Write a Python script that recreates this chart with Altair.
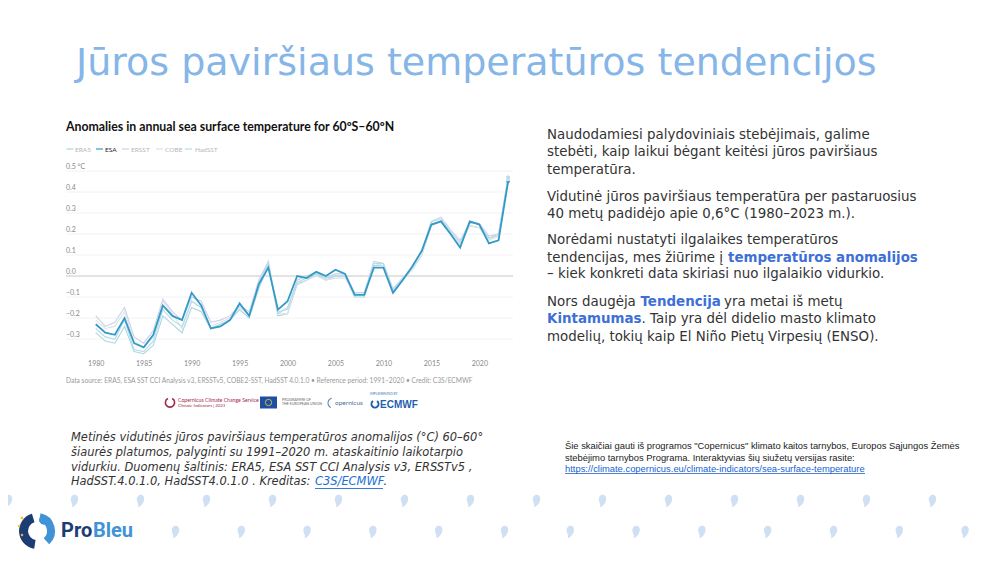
import altair as alt
import pandas as pd

# ---------------- data ----------------
years = list(range(1980, 2024))
esa = [-0.23, -0.27, -0.28, -0.20, -0.32, -0.34, -0.28, -0.14, -0.19, -0.21,
       -0.08, -0.14, -0.25, -0.24, -0.21, -0.13, -0.19, -0.04, 0.04, -0.16,
       -0.12, 0.00, -0.01, 0.02, 0.00, 0.03, 0.01, -0.09, -0.09, 0.04,
       0.04, -0.08, -0.02, 0.045, 0.12, 0.245, 0.26, 0.20, 0.135, 0.26,
       0.245, 0.155, 0.17, 0.45]
era5 = [-0.27, -0.31, -0.32, -0.24, -0.36, -0.37, -0.33, -0.19, -0.23, -0.27,
        -0.15, -0.17, -0.25, -0.23, -0.21, -0.16, -0.20, -0.06, 0.05, -0.19,
        -0.18, -0.04, -0.02, 0.01, -0.02, 0.00, 0.00, -0.10, -0.10, 0.05,
        0.05, -0.07, -0.02, 0.03, 0.10, 0.24, 0.26, 0.20, 0.15, 0.24,
        0.23, 0.18, 0.19, 0.46]
ersst = [-0.19, -0.24, -0.22, -0.15, -0.29, -0.32, -0.26, -0.11, -0.17, -0.21,
         -0.10, -0.12, -0.22, -0.21, -0.19, -0.14, -0.17, -0.02, 0.07, -0.17,
         -0.16, -0.02, 0.00, 0.02, -0.01, 0.01, 0.01, -0.08, -0.08, 0.07,
         0.06, -0.06, -0.01, 0.04, 0.12, 0.26, 0.28, 0.22, 0.17, 0.25,
         0.25, 0.19, 0.20, 0.47]
cobe = [-0.21, -0.25, -0.24, -0.17, -0.31, -0.34, -0.29, -0.12, -0.18, -0.25,
        -0.12, -0.15, -0.24, -0.22, -0.20, -0.15, -0.18, -0.03, 0.06, -0.18,
        -0.18, -0.03, -0.02, 0.00, -0.02, -0.01, -0.01, -0.09, -0.09, 0.06,
        0.05, -0.07, -0.02, 0.03, 0.10, 0.24, 0.26, 0.20, 0.15, 0.24,
        0.23, 0.17, 0.19, 0.46]
hadsst = [-0.25, -0.29, -0.30, -0.21, -0.35, -0.36, -0.31, -0.16, -0.21, -0.24,
          -0.12, -0.15, -0.25, -0.23, -0.21, -0.14, -0.19, -0.03, 0.06, -0.18,
          -0.15, -0.03, -0.01, 0.01, -0.01, 0.00, 0.00, -0.08, -0.08, 0.06,
          0.06, -0.07, -0.01, 0.04, 0.12, 0.26, 0.27, 0.21, 0.16, 0.26,
          0.25, 0.18, 0.20, 0.47]

series_names = ["ERA5", "ESA", "ERSST", "COBE", "HadSST"]
series_values = [era5, esa, ersst, cobe, hadsst]
series_colors = ["#a9d7e0", "#3399c6", "#cbd0ea", "#dde2e5", "#b4dcea"]

y_ticks = [-0.3, -0.2, -0.1, 0.0, 0.1, 0.2, 0.3, 0.4, 0.5]
y_tick_labels = ["−0.3", "−0.2", "−0.1", "0.0", "0.1", "0.2", "0.3", "0.4", "0.5 °C"]
x_ticks = [1980, 1985, 1990, 1995, 2000, 2005, 2010, 2015, 2020]

# ---------------- geometry (page pixels) ----------------
X0, Y0 = 66, 171          # top-left of the plot area on the page
PW, PH = 447, 181         # plot area size

rows = []
for name, vals in zip(series_names, series_values):
    for yr, v in zip(years, vals):
        rows.append({"series": name, "year": yr, "value": v})
df = pd.DataFrame(rows)
ticks_df = pd.DataFrame({"v": y_ticks, "label": y_tick_labels})

xscale = alt.Scale(domain=[1976.9, 2023.51], nice=False, zero=False)
yscale = alt.Scale(domain=[-0.3619, 0.5], nice=False, zero=False)
cscale = alt.Scale(domain=series_names, range=series_colors)

one = pd.DataFrame({"k": [0]})


def T(s, px, py, size, color="#333333", font="DejaVu Sans", weight="normal",
      style="normal", align="left", baseline="middle"):
    return alt.Chart(one).mark_text(
        text=s, fontSize=size, color=color, font=font, fontWeight=weight,
        fontStyle=style, align=align, baseline=baseline
    ).encode(x=alt.value(px - X0), y=alt.value(py - Y0))


def R(x1, x2, py, color, w=1.0):
    return alt.Chart(one).mark_rule(color=color, strokeWidth=w).encode(
        x=alt.value(x1 - X0), x2=alt.value(x2 - X0), y=alt.value(py - Y0))


def BOX(x1, y1, x2, y2, color):
    return alt.Chart(one).mark_rect(color=color).encode(
        x=alt.value(x1 - X0), x2=alt.value(x2 - X0),
        y=alt.value(y1 - Y0), y2=alt.value(y2 - Y0))


def ARC(px, py, r1, r2, t1, t2, color):
    return alt.Chart(one).mark_arc(
        innerRadius=r1, outerRadius=r2, theta=t1, theta2=t2, color=color
    ).encode(x=alt.value(px - X0), y=alt.value(py - Y0))


DROP = ("M0.15,-1 C0.65,-1 0.8,-0.4 0.55,0.15 C0.35,0.6 0,0.9 -0.35,1 "
        "C-0.1,0.6 -0.45,0.35 -0.5,-0.15 C-0.55,-0.7 -0.25,-1 0.15,-1 Z")


def DOT(px, py, size, color, shape="circle", filled=True):
    return alt.Chart(one).mark_point(
        shape=shape, filled=filled, color=color, size=size, opacity=1,
        strokeWidth=0 if filled else 0.8
    ).encode(x=alt.value(px - X0), y=alt.value(py - Y0))


# ---------------- the SST chart ----------------
xaxis = alt.Axis(values=x_ticks, format="d", ticks=False, domain=False, grid=False,
                 labelFontSize=7, labelColor="#8a8a8a", labelFont="Lato",
                 labelPadding=7, title=None)

grid = alt.Chart(ticks_df).mark_rule(strokeWidth=0.8).encode(
    y=alt.Y("v:Q", scale=yscale, axis=None),
    x=alt.value(0), x2=alt.value(PW),
    color=alt.condition(alt.datum.v == 0, alt.value("#b8b8b8"), alt.value("#efefef")))

ylab = alt.Chart(ticks_df).mark_text(
    align="left", baseline="bottom", dy=-1, fontSize=7, color="#8a8a8a", font="Lato"
).encode(y=alt.Y("v:Q", scale=yscale, axis=None), x=alt.value(0), text="label:N")

base = alt.Chart(df).encode(
    x=alt.X("year:Q", scale=xscale, axis=xaxis),
    y=alt.Y("value:Q", scale=yscale, axis=None),
    color=alt.Color("series:N", scale=cscale, legend=None),
    detail="series:N")

light = base.transform_filter(alt.datum.series != "ESA").mark_line(strokeWidth=1.1)
main = base.transform_filter(alt.datum.series == "ESA").mark_line(strokeWidth=1.8)
ends = base.transform_filter(alt.datum.year == 2023).mark_circle(size=12, opacity=1)

layers = [grid, ylab, light, main, ends]

# chart title / legend / source
layers.append(T("Anomalies in annual sea surface temperature for 60ºS–60ºN", 66, 127, 12.3,
                color="#111111", font="Lato", weight="bold"))
leg_line_x = [66.5, 96, 122, 156, 185]
leg_text_x = [75, 105, 131, 165, 195]
for name, col, lx, tx in zip(series_names, series_colors, leg_line_x, leg_text_x):
    layers.append(R(lx, lx + 7, 149, "#3399c6" if name == "ESA" else col, 1.2))
    layers.append(T(name, tx, 149.5, 6.5, color="#222222" if name == "ESA" else "#b5b5b5",
                    font="Lato"))
layers.append(T("Data source: ERA5, ESA SST CCI Analysis v3, ERSSTv5, COBE2-SST, HadSST 4.0.1.0 • "
                "Reference period: 1991–2020 • Credit: C3S/ECMWF", 66, 381, 6.65,
                color="#9a9a9a", font="Lato"))

# logos row
layers.append(ARC(170, 402.5, 3.8, 5.4, 0.5, 5.8, "#a3284a"))
layers.append(T("Copernicus Climate Change Service", 178, 399.5, 5.2, color="#a3284a", font="Lato"))
layers.append(T("Climate Indicators | 2023", 178, 406, 4.3, color="#a3284a", font="Lato"))
layers.append(BOX(260, 396.5, 277, 408.5, "#1f4fa0"))
layers.append(DOT(268.5, 402.5, 40, "#f4d23c", shape="circle", filled=False))
layers.append(T("PROGRAMME OF", 282, 399.5, 3.6, color="#666666", font="Lato"))
layers.append(T("THE EUROPEAN UNION", 282, 404, 3.6, color="#666666", font="Lato"))
layers.append(ARC(333, 403, 4.5, 5.5, 3.6, 6.0, "#5a7fa8"))
layers.append(T("opernicus", 335, 403, 6.5, color="#4e6f96", font="Lato"))
layers.append(T("IMPLEMENTED BY", 370, 393.5, 3.2, color="#3a6fb8", font="Lato"))
layers.append(ARC(375, 404, 2.5, 4.5, 0.6, 5.7, "#1f5fb0"))
layers.append(T("ECMWF", 380, 404.5, 10, color="#1f5fb0", font="Liberation Sans", weight="bold"))

# ---------------- slide text ----------------
layers.append(T("Jūros paviršiaus temperatūros tendencijos", 76, 75, 38,
                color="#86b5e8", baseline="alphabetic"))

PS = 13.4
PC = "#333333"
BLUE = "#3d6fd6"
para = [
    ("Naudodamiesi palydoviniais stebėjimais, galime", 134.5),
    ("stebėti, kaip laikui bėgant keitėsi jūros paviršiaus", 152.3),
    ("temperatūra.", 170),
    ("Vidutinė jūros paviršiaus temperatūra per pastaruosius", 196.7),
    ("40 metų padidėjo apie 0,6°C (1980–2023 m.).", 214.3),
    ("Norėdami nustatyti ilgalaikes temperatūros", 240),
    ("tendencijas, mes žiūrime į", 257.7),
    ("– kiek konkreti data skiriasi nuo ilgalaikio vidurkio.", 274.3),
    ("Nors daugėja", 301.7),
    ("modelių, tokių kaip El Niño Pietų Virpesių (ENSO).", 337.3),
]
for s, py in para:
    layers.append(T(s, 547, py, PS, color=PC))
layers.append(T("temperatūros anomalijos", 728, 257.7, PS, color=BLUE, weight="bold"))
layers.append(T("Tendencija", 640.5, 301.7, PS, color=BLUE, weight="bold"))
layers.append(T("yra metai iš metų", 724, 301.7, PS, color=PC))
layers.append(T("Kintamumas", 547, 319.3, PS, color=BLUE, weight="bold"))
layers.append(T(". Taip yra dėl didelio masto klimato", 641.5, 319.3, PS, color=PC))

# caption (italic)
CS = 11.45
cap = [
    ("Metinės vidutinės jūros paviršiaus temperatūros anomalijos (°C) 60–60°", 438),
    ("šiaurės platumos, palyginti su 1991–2020 m. ataskaitinio laikotarpio", 453),
    ("vidurkiu. Duomenų šaltinis: ERA5, ESA SST CCI Analysis v3, ERSSTv5 ,", 467.5),
    ("HadSST.4.0.1.0, HadSST4.0.1.0 . Kreditas:", 482),
]
for s, py in cap:
    layers.append(T(s, 71, py, CS, color=PC, style="italic"))
layers.append(T("C3S/ECMWF", 315, 482, CS, color="#1a6fd8", style="italic"))
layers.append(R(315, 383, 488.5, "#1a6fd8", 0.9))
layers.append(T(".", 383.5, 482, CS, color=PC, style="italic"))

# footnote
FS = 9.4
layers.append(T("Šie skaičiai gauti iš programos \"Copernicus\" klimato kaitos tarnybos, Europos Sąjungos Žemės",
                565, 446, FS, color="#222222", font="Liberation Sans"))
layers.append(T("stebėjimo tarnybos Programa. Interaktyvias šių siužetų versijas rasite:",
                565, 457.5, FS, color="#222222", font="Liberation Sans"))
layers.append(T("https://climate.copernicus.eu/climate-indicators/sea-surface-temperature",
                565, 468.5, FS, color="#1a5fd0", font="Liberation Sans"))
layers.append(R(565, 865, 473.5, "#1a5fd0", 0.8))

# decorative droplets
for i in range(16):
    layers.append(DOT(8 + 66 * i, 501, 160, "#cfe0f5", shape=DROP))
for i in range(13):
    layers.append(DOT(175 + 65.8 * i, 532, 160, "#cfe0f5", shape=DROP))

# ProBleu logo
layers.append(ARC(37, 531, 9, 18, 3.3, 6.0, "#1c3d73"))
layers.append(ARC(37, 531, 10, 18, 0.2, 2.4, "#3f93d6"))
layers.append(DOT(44, 520, 90, "#3f93d6"))
layers.append(DOT(22, 518, 12, "#f2c230", shape="diamond"))
layers.append(DOT(19, 526, 9, "#f2c230", shape="diamond"))
layers.append(DOT(22, 535, 9, "#f2c230", shape="diamond"))
layers.append(T("Pro", 61, 531, 20, color="#1c3d73", font="Roboto", weight="bold"))
layers.append(T("Bleu", 93, 531, 20, color="#3f93d6", font="Roboto", weight="bold"))

chart = alt.layer(*layers).properties(
    width=PW, height=PH,
    padding={"left": X0 - 8, "top": Y0 - 8, "right": 984 - (X0 - 8) - PW,
             "bottom": 547 - (Y0 - 8) - PH},
    autosize=alt.AutoSizeParams(type="none"),
    background="white",
).configure_view(strokeWidth=0)

chart.save("out.html", embed_options={"renderer": "svg", "actions": False})
